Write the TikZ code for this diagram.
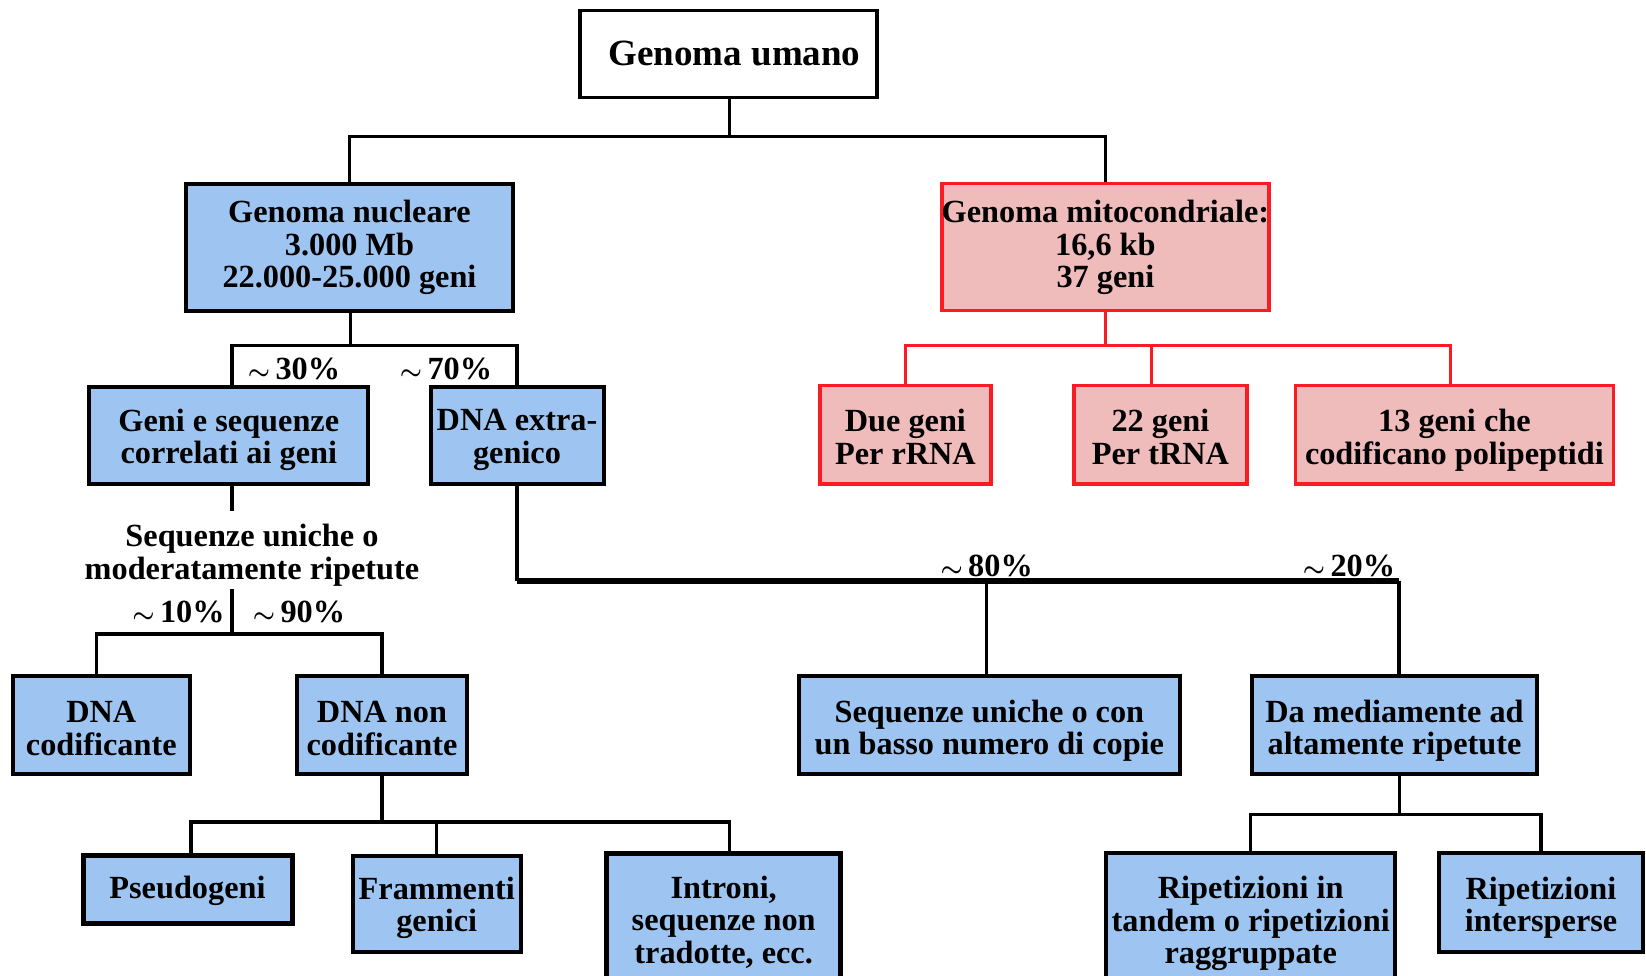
\documentclass[tikz,border=0pt]{standalone}
\usepackage{fontspec}
\usepackage{amsmath}
\setmainfont{Liberation Serif}
\definecolor{boxblue}{RGB}{158,197,242}
\definecolor{boxpink}{RGB}{239,187,187}
\definecolor{boxred}{RGB}{250,28,34}
\tikzset{
  bluebox/.style={draw=black, line width=4pt, fill=boxblue, rectangle, inner sep=0pt},
  pinkbox/.style={draw=boxred, line width=3.5pt, fill=boxpink, rectangle, inner sep=0pt},
  topbox/.style={draw=black, line width=3.5pt, fill=white, rectangle, inner sep=0pt},
  txt/.style={align=center, inner sep=0pt, font=\fontsize{32.3}{32.5}\selectfont\bfseries},
  toptxt/.style={align=center, inner sep=0pt, font=\fontsize{37}{38}\selectfont\bfseries},
  pct/.style={inner sep=1pt, font=\fontsize{32.3}{32.5}\selectfont\bfseries},
  conn/.style={draw=black, line width=3.2pt, line join=miter},
  bconn/.style={draw=black, line width=6pt, line join=miter},
  rconn/.style={draw=boxred, line width=3.2pt, line join=miter},
}
% style, name, x, y, width, height, shift down, text
\newcommand\bx[8]{%
  \node[#1, minimum width=#5, minimum height=#6] (#2) at (#3,#4) {};
  \node[txt] (#2-t) at ([yshift=-#7pt]#2.center) {#8};}
\newcommand\tl{$\boldsymbol{\sim}$\,}
\begin{document}
\begin{tikzpicture}[x=1pt,y=-1pt]
\clip (0,0) rectangle (1646,976);
\fill[white] (0,0) rectangle (1646,976);

% nodes
\node[topbox, minimum width=297, minimum height=87] (umano) at (728.5,54) {};
\node[toptxt] (umano-t) at ([xshift=6pt,yshift=1pt]umano.center) {Genoma umano};
\bx{bluebox}{nucl}{349.5}{247.2}{327}{127}{0.5}{Genoma nucleare\\3.000 Mb\\22.000-25.000 geni}
\bx{pinkbox}{mito}{1105.4}{247.2}{327}{127}{0.5}{Genoma mitocondriale:\\16,6 kb\\37 geni}

\bx{bluebox}{geni}{228.8}{435.6}{279}{96.6}{4.2}{Geni e sequenze\\correlati ai geni}
\bx{bluebox}{extra}{517}{435.6}{173}{96.6}{4.2}{DNA extra-\\genico}

\bx{pinkbox}{rrna}{905.4}{434.6}{171}{98.6}{2.5}{Due geni\\Per rRNA}
\bx{pinkbox}{trna}{1160.4}{434.6}{173}{98.6}{2.5}{22 geni\\Per tRNA}
\bx{pinkbox}{poly}{1454.4}{434.6}{318}{98.6}{5.5}{13 geni che\\codificano polipeptidi}

\node[txt] (seq) at (252,555) {Sequenze uniche o\\moderatamente ripetute};

\bx{bluebox}{cod}{101.3}{724.8}{177.4}{97.6}{3.8}{DNA\\codificante}
\bx{bluebox}{noncod}{382}{724.8}{170}{97.6}{3.8}{DNA non\\codificante}

\bx{bluebox, line width=5pt}{pseudo}{187.5}{889.7}{209}{68.3}{1}{Pseudogeni}
\bx{bluebox}{framm}{436.7}{903.8}{168}{96.5}{4.2}{Frammenti\\genici}
\bx{bluebox, line width=5pt}{introni}{723.7}{920.6}{234}{134.4}{1.6}{Introni,\\sequenze non\\tradotte, ecc.}

\bx{bluebox}{uniche}{989.4}{724.8}{381}{97.6}{5.8}{Sequenze uniche o con\\un basso numero di copie}
\bx{bluebox}{damed}{1394.5}{724.8}{284.5}{97.6}{5.8}{Da mediamente ad\\altamente ripetute}

\bx{bluebox}{tandem}{1250.7}{920.6}{288.6}{134.4}{3.2}{Ripetizioni in\\tandem o ripetizioni\\raggruppate}
\bx{bluebox}{inters}{1541}{902.7}{203.6}{98.6}{5.2}{Ripetizioni\\intersperse}

% percentages
\node[pct] (p30) at (294,368.5) {\tl 30\%};
\node[pct] (p70) at (446,368.5) {\tl 70\%};
\node[pct] (p10) at (178.5,612) {\tl 10\%};
\node[pct] (p90) at (299,612) {\tl 90\%};
\node[pct] (p80) at (986.7,566) {\tl 80\%};
\node[pct] (p20) at (1349,566) {\tl 20\%};

% junctions and branch columns
\coordinate (jU) at (729.6,136.5);
\coordinate (jN) at (350.6,345.4);
\coordinate (jM) at (1105.4,345.4);
\coordinate (gx) at (232,0);
\coordinate (gEnd) at (232,511);
\coordinate (sTop) at (232,589);
\coordinate (jS) at (232,634);
\coordinate (cx) at (96.6,0);
\coordinate (jNC) at (382,822);
\coordinate (px) at (191,0);
\coordinate (ix) at (729.6,0);
\coordinate (tx) at (1151.5,0);
\coordinate (ox) at (1450.7,0);
\coordinate (ux) at (986.7,0);
\coordinate (jE) at (516.5,580.5);
\coordinate (jR) at (1399.3,580.5);
\coordinate (jD) at (1399.3,814.6);

% connectors
\draw[conn] (jU |- umano.south) -- (jU);
\draw[conn] (nucl.north) |- (jU) -| (mito.north);

\draw[conn] (jN |- nucl.south) -- (jN);
\draw[conn] (gx |- geni.north) |- (jN) -| (extra.north);

\draw[rconn] (mito.south) -- (jM);
\draw[rconn] (rrna.north) |- (jM) -| (ox |- poly.north);
\draw[rconn] (tx |- trna.north) -- (tx |- jM);

\draw[conn] (gx |- geni.south) -- (gEnd);
\draw[conn] (sTop) -- (jS);
\draw[conn] (cx |- cod.north) |- (jS) -| (noncod.north);

\draw[conn] (noncod.south) -- (jNC);
\draw[conn] (px |- pseudo.north) |- (jNC) -| (ix |- introni.north);
\draw[conn] (framm.north) -- (framm.north |- jNC);

\draw[conn, line width=4pt] (jE |- extra.south) -- (jE);
\draw[bconn] (jE) -- (jR);
\draw[conn, line width=4pt] (jR) -- (jR |- damed.north);
\draw[conn] (ux |- uniche.north) -- (ux |- jE);

\draw[conn] (jD |- damed.south) -- (jD);
\draw[conn] (tandem.north) |- (jD) -| (inters.north);
\end{tikzpicture}
\end{document}
